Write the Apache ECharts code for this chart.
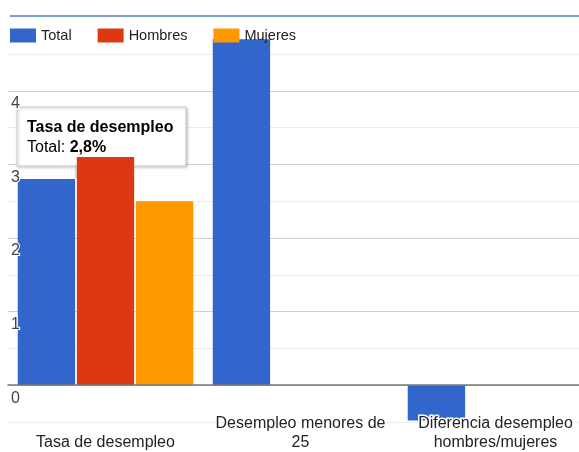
<!DOCTYPE html>
<html>
<head>
<meta charset="utf-8">
<script src="https://cdn.jsdelivr.net/npm/echarts@6/dist/echarts.min.js"></script>
<style>
html,body{margin:0;padding:0;background:#fff;}
#c{width:579px;height:452px;}
</style>
</head>
<body>
<div id="c"></div>
<script>
var categories = ['Tasa de desempleo', 'Desempleo menores de\n25', 'Diferencia desempleo\nhombres/mujeres'];
var seriesNames = ['Total', 'Hombres', 'Mujeres'];
var totalValues = [2.8, 4.7, -0.48];
var hombresValues = [3.1, null, null];
var mujeresValues = [2.5, null, null];
var yTickLabels = ['0', '1', '2', '3', '4'];
var colors = ['#3366cc', '#dc3912', '#ff9900'];

var FONT = "'Liberation Sans', Arial, sans-serif";
var chart = echarts.init(document.getElementById('c'), null, {renderer: 'canvas'});

function yLabel(v) {
  var s = String(Math.round(v * 10) / 10);
  return yTickLabels.indexOf(s) >= 0 ? s : '';
}

var option = {
  animation: false,
  color: colors,
  textStyle: {fontFamily: FONT},
  legend: {
    left: 10, top: 28, padding: 0,
    itemWidth: 26, itemHeight: 14, itemGap: 26,
    icon: 'rect',
    textStyle: {fontSize: 14.5, color: '#222', fontFamily: FONT},
    data: seriesNames
  },
  grid: {left: 8, top: 54, width: 585, height: 368, containLabel: false, outerBoundsMode: 'none'},
  xAxis: {
    type: 'category',
    data: categories,
    z: 5,
    axisLine: {show: true, onZero: true, lineStyle: {color: '#777', width: 1.5}},
    axisTick: {show: false},
    axisLabel: {
      interval: 0,
      margin: 30,
      verticalAlign: 'bottom',
      fontSize: 16, lineHeight: 19, color: '#222', fontFamily: FONT,
      textBorderColor: '#fff', textBorderWidth: 3
    }
  },
  yAxis: [{
    type: 'value', min: -0.5, max: 4.5, interval: 0.5,
    z: 0,
    axisLine: {show: false}, axisTick: {show: false},
    axisLabel: {show: false},
    splitLine: {show: true, lineStyle: {color: ['#ececec', '#cfcfcf'], width: 1}}
  }, {
    type: 'value', min: -0.5, max: 4.5, interval: 0.5,
    z: 6,
    position: 'left',
    axisLine: {show: false}, axisTick: {show: false},
    splitLine: {show: false},
    axisLabel: {
      inside: true, margin: 3, align: 'left', verticalAlign: 'top',
      padding: [5, 0, 0, 0],
      fontSize: 16, color: '#444', fontFamily: FONT,
      textBorderColor: '#fff', textBorderWidth: 2,
      formatter: yLabel
    }
  }],
  series: [
    {name: seriesNames[0], type: 'bar', data: totalValues, barGap: '3%', barCategoryGap: '10%', clip: false},
    {name: seriesNames[1], type: 'bar', data: hombresValues, barGap: '3%', barCategoryGap: '10%', clip: false},
    {name: seriesNames[2], type: 'bar', data: mujeresValues, barGap: '3%', barCategoryGap: '10%', clip: false}
  ]
};
chart.setOption(option);

// static tooltip anchored at the top-right corner of the first "Total" bar
var ax = 77, ay = 181;
try {
  var lay = chart.getModel().getSeriesByIndex(0).getData().getItemLayout(0);
  ax = lay.x + lay.width;
  ay = Math.min(lay.y, lay.y + lay.height);
} catch (e) {}
var bx = 17, bw = 169, bh = 59, by = ay - 72;
chart.setOption({
  graphic: [{
    type: 'group', z: 100,
    children: [
      {type: 'rect', shape: {x: bx, y: by, width: bw, height: bh},
       style: {fill: '#fff', stroke: '#cccccc', lineWidth: 1,
               shadowBlur: 3, shadowColor: 'rgba(0,0,0,0.25)', shadowOffsetX: 1, shadowOffsetY: 1}},
      {type: 'polygon', shape: {points: [[ax + 1, by + bh - 1], [ax + 1, ay - 1], [ax + 33, by + bh - 1]]},
       style: {fill: '#fff', stroke: '#cccccc', lineWidth: 1, shadowBlur: 2, shadowColor: 'rgba(0,0,0,0.2)'}},
      {type: 'rect', shape: {x: ax + 1.5, y: by + bh - 3, width: 30, height: 3}, style: {fill: '#fff'}},
      {type: 'text', x: bx + 10, y: by + 20,
       style: {text: '{b|Tasa de desempleo}', verticalAlign: 'middle', fontFamily: FONT,
               rich: {b: {fontSize: 16, fontWeight: 'bold', fill: '#000', fontFamily: FONT}}}},
      {type: 'text', x: bx + 10, y: by + 40,
       style: {text: '{n|Total: }{b|2,8%}', verticalAlign: 'middle', fontFamily: FONT,
               rich: {n: {fontSize: 16, fill: '#000', fontFamily: FONT},
                      b: {fontSize: 16, fontWeight: 'bold', fill: '#000', fontFamily: FONT}}}}
    ]
  }, {
    type: 'line', z: 100,
    shape: {x1: 10, y1: 16, x2: 579, y2: 16},
    style: {stroke: '#4f7fc4', lineWidth: 1.6}
  }]
});
</script>
</body>
</html>
